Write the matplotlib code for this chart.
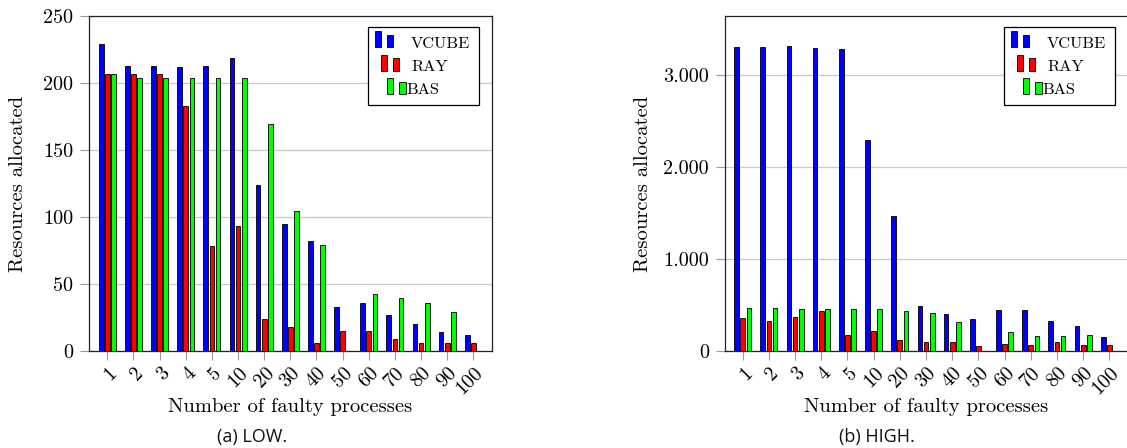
import matplotlib
matplotlib.use("Agg")
import matplotlib.pyplot as plt
from matplotlib.patches import Rectangle
from matplotlib.ticker import FuncFormatter, MultipleLocator
from matplotlib.transforms import ScaledTranslation
import numpy as np

# Number of faulty processes (categories on the x axis)
faulty = ["1", "2", "3", "4", "5", "10", "20", "30", "40", "50", "60", "70", "80", "90", "100"]

# LOW scenario: resources allocated
low_vcube = [229, 213, 213, 212, 213, 219, 124, 95, 82, 33, 36, 27, 20, 14, 12]
low_ray = [207, 207, 207, 183, 78, 93, 24, 18, 6, 15, 15, 9, 6, 6, 6]
low_bas = [207, 204, 204, 204, 204, 204, 169, 104, 79, 0, 42, 39, 36, 29, 0]

# HIGH scenario: resources allocated
high_vcube = [3310, 3312, 3318, 3296, 3282, 2300, 1465, 484, 396, 349, 447, 440, 324, 265, 145]
high_ray = [353, 324, 367, 433, 171, 215, 116, 95, 95, 47, 69, 62, 95, 62, 58]
high_bas = [462, 462, 455, 455, 455, 451, 433, 407, 313, 0, 200, 160, 160, 167, 0]

series_names = ["VCUBE", "RAY", "BAS"]
series_colors = ["#0000ff", "#ff0000", "#00ff00"]

W, H = 1127, 448
fig = plt.figure(figsize=(W / 100, H / 100), dpi=100)

SERIF = "cmr10"
TICK_FS = 14.5
LABEL_FS = 14.8


def px_box(left, top, right, bottom):
    return [left / W, 1 - bottom / H, (right - left) / W, (bottom - top) / H]


def dot_thousands(v, _pos):
    return f"{int(round(v)):,}".replace(",", ".")


def draw_panel(rect, xlim, ylim, ystep, data, fmt):
    ax = fig.add_axes(rect)
    x = np.arange(len(faulty))
    shift = 0.235
    width = 0.18
    for i, (vals, col) in enumerate(zip(data, series_colors)):
        ax.bar(x + (i - 1) * shift, vals, width=width, color=col,
               edgecolor="black", linewidth=0.6, zorder=3)
    ax.set_xlim(*xlim)
    ax.set_ylim(*ylim)
    ax.yaxis.set_major_locator(MultipleLocator(ystep))
    ax.yaxis.set_major_formatter(FuncFormatter(fmt))
    ax.tick_params(axis="both", direction="out", length=6.5, width=0.8,
                   color="#999999")
    ax.tick_params(axis="y", pad=5)
    ax.tick_params(axis="x", pad=9)
    ax.set_xticks(x)
    ax.set_xticklabels(faulty, rotation=45, rotation_mode="anchor",
                       ha="right", va="center", fontfamily=SERIF, fontsize=TICK_FS)
    # nudge rotated labels so their end sits just right of the tick
    offset = ScaledTranslation(7 / 100, 2 / 100, fig.dpi_scale_trans)
    for lab in ax.get_xticklabels():
        lab.set_transform(lab.get_transform() + offset)
    for lab in ax.get_yticklabels():
        lab.set_fontfamily(SERIF)
        lab.set_fontsize(TICK_FS)
    ax.grid(axis="y", color="#c8c8c8", linewidth=0.9, zorder=0)
    ax.set_axisbelow(True)
    for sp in ax.spines.values():
        sp.set_color("#222222")
        sp.set_linewidth(0.9)
    return ax


ax_low = draw_panel(px_box(89, 16, 492, 350.7), (-0.70, 14.715), (0, 250), 50,
                    [low_vcube, low_ray, low_bas], lambda v, p: f"{int(round(v))}")
ax_high = draw_panel(px_box(725, 16, 1129, 350.7), (-0.676, 14.75), (0, 3645), 1000,
                     [high_vcube, high_ray, high_bas], dot_thousands)

# Axis titles and sub-captions
for cx, ylab_x, caption_x, caption in [(290.5, 18, 252, "(a) LOW."),
                                        (926, 643, 877, "(b) HIGH.")]:
    fig.text(cx / W, 1 - 407 / H, "Number of faulty processes", ha="center", va="center",
             fontfamily=SERIF, fontsize=LABEL_FS)
    fig.text(ylab_x / W, 1 - 184 / H, "Resources allocated", ha="center", va="center",
             rotation=90, fontfamily=SERIF, fontsize=LABEL_FS)
    fig.text(caption_x / W, 1 - 437 / H, caption, ha="center", va="center",
             fontfamily="Open Sans", fontsize=13, color="#111111")


def draw_legend(box_left, box_top):
    tr = fig.transFigure

    def rect(l, t, w, h, **kw):
        r = Rectangle((l / W, 1 - (t + h) / H), w / W, h / H, transform=tr, **kw)
        fig.add_artist(r)

    rect(box_left, box_top, 111, 78, facecolor="white", edgecolor="black", linewidth=0.9,
         zorder=10)
    for i, (name, col) in enumerate(zip(series_names, series_colors)):
        s = 6.2 * i
        base = box_top + 20.5 + 23.5 * i
        rect(box_left + 6.5 + s, base - 16, 6.2, 16, facecolor=col, edgecolor="black",
             linewidth=0.6, zorder=11)
        rect(box_left + 19 + s, base - 12.5, 6.2, 12.5, facecolor=col, edgecolor="black",
             linewidth=0.6, zorder=11)
        tx = box_left + (38.5 if i == 2 else 43)
        fig.text(tx / W, 1 - base / H, name, ha="left", va="baseline",
                 fontfamily=SERIF, fontsize=11.8, zorder=12)


draw_legend(368, 27)
draw_legend(1004, 27)

fig.savefig("out.png", dpi=100)
